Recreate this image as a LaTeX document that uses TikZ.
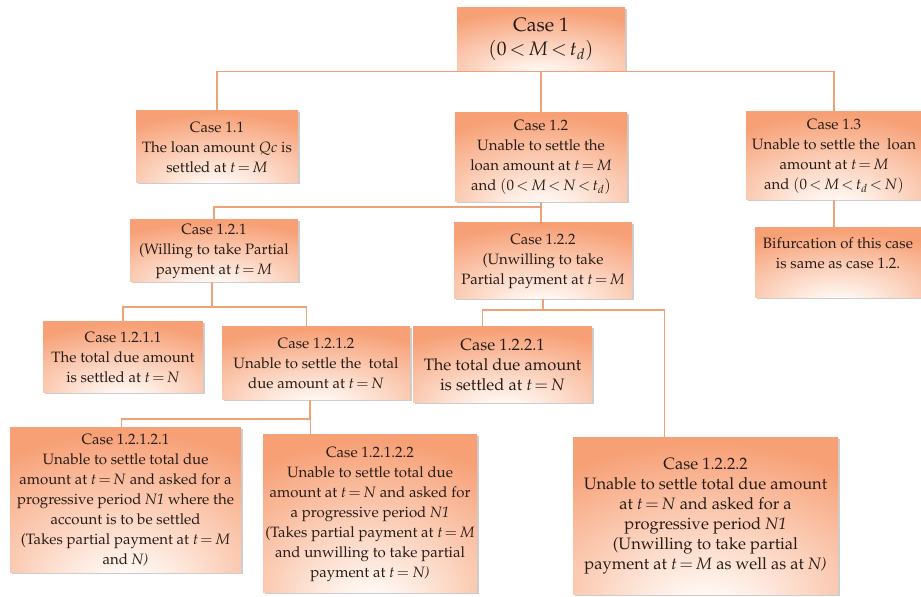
\documentclass[tikz,border=0pt]{standalone}
\usepackage[T1]{fontenc}
\usepackage{mathpazo}
\usetikzlibrary{shadows,calc}
\definecolor{boxor}{RGB}{247,160,118}
\definecolor{boxlt}{RGB}{255,247,242}
\definecolor{lineor}{RGB}{238,162,120}
\definecolor{txt}{RGB}{40,28,22}
\pgfdeclareradialshading{boxshade}{\pgfpoint{0bp}{-32bp}}{color(0bp)=(boxlt); color(6bp)=(boxlt); color(42bp)=(boxor); color(100bp)=(boxor)}
\thickmuskip=2.5mu plus 1mu
\medmuskip=2mu plus 1mu
\begin{document}
\begin{tikzpicture}[x=1pt,y=1pt,
  box/.style={rectangle, shade, shading=boxshade, draw=none, align=center, text=txt, inner sep=2pt,
    font=\fontsize{15}{20}\selectfont,
    drop shadow={shadow xshift=1.5pt,shadow yshift=-1.5pt,opacity=0.28,fill=black!70}},
  bigbox/.style={box, font=\fontsize{16.5}{20}\selectfont},
  conn/.style={draw=lineor, line width=1.1pt}]
\useasboundingbox (0,0) rectangle (921,597);

\node[box, minimum width=168pt, minimum height=63pt, font=\fontsize{19.5}{24}\selectfont] (c1) at (541,557.5) {Case 1\\$(0<M<t_d)$};
\node[box, minimum width=162pt, minimum height=72pt] (c11) at (217,450) {Case 1.1\\The loan amount $Qc$ is\\settled at $t = M$};
\node[box, minimum width=172pt, minimum height=89pt] (c12) at (541,439.5) {Case 1.2\\Unable to settle the\\loan amount at $t = M$\\and $(0 < M <N< t_d)$};
\node[box, minimum width=176pt, minimum height=88pt] (c13) at (834,441) {Case 1.3\\Unable to settle the\ \ loan\\amount at $t = M$\\and $(0 < M < t_d <N)$};
\node[box, minimum width=166pt, minimum height=70pt] (cbif) at (838,334) {Bifurcation of this case\\is same as case 1.2.\\\mbox{}};
\node[box, minimum width=168pt, minimum height=62pt] (c121) at (214,346) {Case 1.2.1\\(Willing to take Partial\\payment at $t = M$};
\node[box, minimum width=178pt, minimum height=76pt] (c122) at (543,336) {Case 1.2.2\\(Unwilling to take\\Partial payment at $t = M$};
\node[box, minimum width=160pt, minimum height=71pt] (c1211) at (123,239.5) {Case 1.2.1.1\\The total due amount\\is settled at $t = N$};
\node[box, minimum width=188pt, minimum height=73pt] (c1212) at (316,233.5) {Case 1.2.1.2\\Unable to settle the\ \ total\\due amount at $t = N$};
\node[bigbox, minimum width=179pt, minimum height=76pt] (c1221) at (502.5,232) {Case 1.2.2.1\\The total due amount\\is settled at $t = N$};
\node[box, minimum width=231pt, minimum height=145pt] (c12121) at (125.5,96.5) {Case 1.2.1.2.1\\Unable to settle total due\\amount at $t = N$ and asked for a\\progressive period \textit{N1} where the\\account is to be settled\\(Takes partial payment at $t = M$\\and \textit{N)}};
\node[box, minimum width=214pt, minimum height=158pt] (c12122) at (370,83) {Case 1.2.1.2.2\\Unable to settle total due\\amount at $t = N$ and asked for\\a progressive period \textit{N1}\\(Takes partial payment at $t = M$\\and unwilling to take partial\\payment at $t =$ \textit{N)}};
\node[bigbox, minimum width=265pt, minimum height=157pt] (c1222) at (705.5,80.5) {Case 1.2.2.2\\Unable to settle total due amount\\at $t = N$ and asked for a\\progressive period \textit{N1}\\(Unwilling to take partial\\payment at $t = M$ as well as at \textit{N)}};

% junctions
\coordinate (j2) at (541,390);
\coordinate (j3) at (212,290);
\coordinate (j4) at (543,287);
\coordinate (j5) at (310,178);
\coordinate (t1212) at ($(c1212.north west)+(85,0)$);
\coordinate (t1221) at ($(c1221.north west)+(70,0)$);
\coordinate (t1222) at ($(c1222.north west)+(92,0)$);
\coordinate (s121) at (c121.south -| j3);
\coordinate (s1212) at (c1212.south -| j5);
\coordinate (t12121) at ($(c12121.north west)+(112,0)$);
\coordinate (t12122) at ($(c12122.north west)+(48,0)$);

\draw[conn] (c11.north) |- (c1.south) -| (c13.north);
\draw[conn] (c1.south) -- (c12.north);
\draw[conn] (c13.south) -- (c13.south |- cbif.north);
\draw[conn] (c12.south) -- (c12.south |- c122.north);
\draw[conn] (j2) -| (c121.north);
\draw[conn] (s121) -- (j3);
\draw[conn] (c1211.north) |- (j3) -| (t1212);
\draw[conn] (c122.south) -- (j4);
\draw[conn] (t1221) |- (j4) -| (t1222);
\draw[conn] (s1212) -- (j5);
\draw[conn] (t12121) |- (j5) -| (t12122);
\end{tikzpicture}
\end{document}
